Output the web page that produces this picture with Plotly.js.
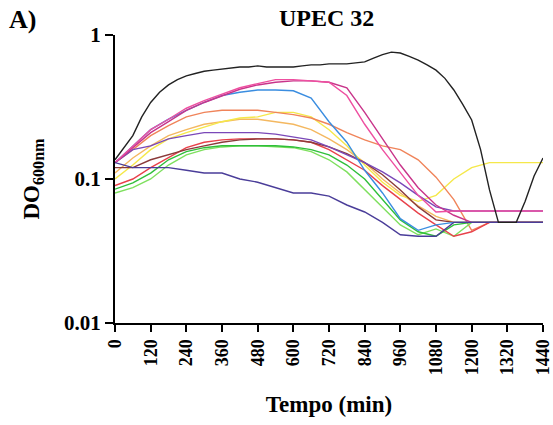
<!DOCTYPE html>
<html>
<head>
<meta charset="utf-8">
<script src="https://cdn.plot.ly/plotly-3.0.1.min.js"></script>
<style>html,body{margin:0;padding:0;background:#fff;}#chart{width:553px;height:425px;}</style>
</head>
<body>
<div id="chart"></div>
<script>
// Time points (min)
const time = [0,60,120,180,240,300,360,420,480,540,600,660,720,780,840,900,960,1020,1080,1140,1200,1260,1320,1380,1440];
const timeFine = [0,30,60,90,120,150,180,210,240,270,300,330,360,390,420,450,480,510,540,570,600,630,660,690,720,750,780,810,840,870,900,930,960,990,1020,1050,1080,1110,1140,1170,1200,1230,1260,1290,1320,1350,1380,1410,1440];

// OD600 series
const black = [0.136,0.165,0.2,0.27,0.34,0.4,0.45,0.49,0.52,0.54,0.56,0.57,0.58,0.59,0.6,0.6,0.61,0.6,0.6,0.6,0.6,0.61,0.62,0.62,0.63,0.63,0.63,0.64,0.65,0.69,0.73,0.76,0.75,0.71,0.67,0.62,0.57,0.5,0.415,0.33,0.257,0.16,0.084,0.05,0.05,0.05,0.07,0.105,0.14];
const pinkA   = [0.13,0.17,0.22,0.26,0.31,0.35,0.39,0.43,0.46,0.49,0.49,0.48,0.47,0.38,0.24,0.16,0.11,0.077,0.059,0.06,0.06,0.06,0.06,0.06,0.06];
const magentaB= [0.13,0.165,0.21,0.25,0.3,0.34,0.38,0.42,0.45,0.47,0.48,0.48,0.47,0.43,0.29,0.19,0.125,0.087,0.066,0.056,0.05,0.05,0.05,0.05,0.05];
const blue    = [0.13,0.17,0.22,0.26,0.3,0.34,0.38,0.4,0.415,0.415,0.41,0.365,0.25,0.18,0.115,0.08,0.053,0.044,0.048,0.05,0.05,0.05,0.05,0.05,0.05];
const orange  = [0.13,0.16,0.2,0.235,0.27,0.29,0.3,0.3,0.3,0.29,0.28,0.265,0.24,0.21,0.187,0.17,0.16,0.136,0.103,0.072,0.044,0.05,0.05,0.05,0.05];
const yellow  = [0.1,0.125,0.16,0.19,0.21,0.23,0.25,0.265,0.27,0.29,0.29,0.27,0.22,0.17,0.125,0.095,0.077,0.07,0.077,0.1,0.12,0.13,0.13,0.13,0.13];
const gold    = [0.11,0.14,0.17,0.2,0.22,0.24,0.25,0.26,0.26,0.25,0.24,0.22,0.19,0.16,0.13,0.1,0.08,0.065,0.055,0.05,0.05,0.05,0.05,0.05,0.05];
const purple  = [0.13,0.16,0.17,0.19,0.2,0.21,0.21,0.21,0.21,0.205,0.195,0.187,0.167,0.147,0.13,0.112,0.094,0.077,0.064,0.06,0.06,0.06,0.06,0.06,0.06];
const red     = [0.09,0.1,0.12,0.14,0.165,0.18,0.187,0.19,0.19,0.19,0.187,0.18,0.16,0.136,0.115,0.09,0.072,0.058,0.048,0.04,0.043,0.05,0.05,0.05,0.05];
const maroon  = [0.12,0.12,0.136,0.147,0.16,0.17,0.18,0.187,0.19,0.19,0.187,0.18,0.167,0.15,0.13,0.107,0.084,0.064,0.052,0.05,0.05,0.05,0.05,0.05,0.05];
const green   = [0.085,0.094,0.11,0.136,0.155,0.165,0.17,0.17,0.17,0.17,0.167,0.16,0.147,0.125,0.1,0.072,0.052,0.043,0.04,0.048,0.05,0.05,0.05,0.05,0.05];
const lightGreen = [0.08,0.087,0.1,0.125,0.147,0.16,0.167,0.17,0.17,0.167,0.165,0.155,0.136,0.112,0.084,0.063,0.048,0.041,0.045,0.04,0.05,0.05,0.05,0.05,0.05];
const navy    = [0.13,0.12,0.12,0.12,0.115,0.11,0.11,0.1,0.095,0.087,0.08,0.08,0.076,0.066,0.059,0.05,0.041,0.04,0.04,0.05,0.05,0.05,0.05,0.05,0.05];

const xTicks = [0,120,240,360,480,600,720,840,960,1080,1200,1320,1440];
const yTicks = [0.01,0.1,1];
const yTickText = ['0.01','0.1','1'];

const serif = 'Liberation Serif, Times New Roman, serif';
function tr(x, y, color) {
  return {x: x, y: y, type: 'scatter', mode: 'lines', line: {color: color, width: 1.4}, hoverinfo: 'skip', showlegend: false};
}
const data = [
  tr(time, gold, '#f4b860'),
  tr(time, yellow, '#f5e84a'),
  tr(time, orange, '#f0845a'),
  tr(time, lightGreen, '#7ee05e'),
  tr(time, green, '#2fbf3a'),
  tr(time, red, '#e8414a'),
  tr(time, maroon, '#8a3a3a'),
  tr(time, purple, '#7a48b8'),
  tr(time, blue, '#3a8de0'),
  tr(time, magentaB, '#c8348a'),
  tr(time, pinkA, '#ee4fa0'),
  tr(time, navy, '#4a3d99'),
  tr(timeFine, black, '#222222')
];

const layout = {
  width: 553, height: 425,
  margin: {l: 115, r: 10, t: 35, b: 102},
  paper_bgcolor: '#fff', plot_bgcolor: '#fff',
  font: {family: serif, color: '#000'},
  xaxis: {
    range: [0, 1440], tickvals: xTicks, ticktext: xTicks.map(String), tickangle: -90,
    ticks: 'outside', ticklen: 7, tickwidth: 2, tickcolor: '#000',
    showline: true, linewidth: 2, linecolor: '#000', showgrid: false, zeroline: false,
    tickfont: {family: serif, size: 18, weight: 'bold', color: '#000'},
    title: {text: 'Tempo (min)', standoff: 22, font: {family: serif, size: 23, weight: 'bold', color: '#000'}}
  },
  yaxis: {
    type: 'log', range: [-2, 0], tickvals: yTicks, ticktext: yTickText,
    ticks: 'outside', ticklen: 8, tickwidth: 2, tickcolor: '#000',
    showline: true, linewidth: 2, linecolor: '#000', showgrid: false, zeroline: false,
    tickfont: {family: serif, size: 21, weight: 'bold', color: '#000'},
    title: {text: 'DO<sub>600nm</sub>', standoff: 18, font: {family: serif, size: 23, weight: 'bold', color: '#000'}}
  },
  annotations: [
    {text: 'UPEC 32', xref: 'paper', yref: 'paper', x: 0.495, y: 1.059, xanchor: 'center', yanchor: 'middle', showarrow: false,
     font: {family: serif, size: 24, weight: 'bold', color: '#000'}},
    {text: 'A)', xref: 'paper', yref: 'paper', x: -0.25, y: 1.055, xanchor: 'left', yanchor: 'middle', showarrow: false,
     font: {family: serif, size: 26, weight: 'bold', color: '#000'}, xshift: -1}
  ]
};

Plotly.newPlot('chart', data, layout, {displayModeBar: false, staticPlot: true});
</script>
</body>
</html>
